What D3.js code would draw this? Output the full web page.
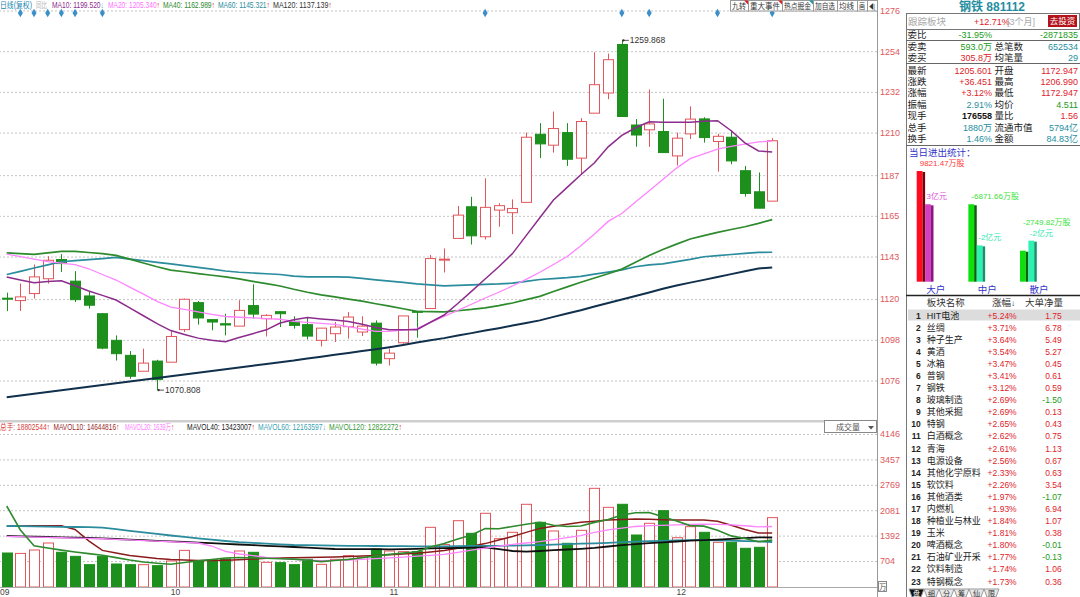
<!DOCTYPE html>
<html>
<head>
<meta charset="utf-8">
<title>钢铁 881112</title>
<script src="https://cdn.jsdelivr.net/npm/d3@7/dist/d3.min.js"></script>
<style>
  html, body { margin: 0; padding: 0; background: #fff; }
  svg { display: block; font-family: 'Liberation Sans', 'Noto Sans CJK SC', sans-serif; }
</style>
</head>
<body>
<div id="chart"></div>
<script>
// daily candles, oldest first (index 0 = mid Sep)
const opens = [1120.5,1119.2,1123.0,1131.0,1141.4,1129.7,1121.7,1112.1,1097.7,1089.6,
  1081.0,1086.5,1085.9,1103.5,1118.1,1108.9,1106.7,1105.4,1116.5,1109.4,
  1113.2,1108.0,1106.2,1097.7,1101.3,1105.1,1102.2,1107.0,1087.8,1096.4,
  1113.4,1114.9,1141.2,1152.8,1169.9,1153.7,1168.1,1166.7,1172.3,1209.1,
  1203.2,1210.0,1196.2,1220.5,1231.4,1257.6,1214.1,1211.5,1210.6,1197.4,
  1209.3,1217.4,1205.2,1207.5,1189.4,1178.0,1172.947];
const highs = [1123.5,1128.4,1138.7,1143.2,1144.3,1135.1,1123.9,1112.5,1100.4,1091.9,
  1093.2,1087.2,1102.6,1120.3,1119.0,1108.9,1112.1,1119.4,1128.0,1111.8,
  1113.2,1110.7,1110.3,1104.3,1107.6,1113.0,1110.7,1108.5,1093.2,1110.9,
  1113.4,1143.8,1147.4,1170.3,1175.3,1185.3,1171.8,1173.9,1210.0,1215.1,
  1221.4,1215.1,1217.8,1253.4,1252.7,1259.868,1217.3,1233.3,1228.3,1210.0,
  1224.2,1218.3,1209.3,1211.1,1192.0,1188.4,1206.990];
const lows = [1113.5,1113.6,1120.3,1128.4,1134.7,1118.4,1114.9,1092.9,1086.8,1076.9,
  1081.0,1070.808,1085.9,1102.2,1106.2,1103.1,1100.4,1105.4,1109.4,1099.8,
  1104.9,1104.0,1098.2,1094.4,1096.8,1098.6,1100.0,1084.1,1084.1,1095.9,
  1099.1,1114.9,1134.4,1152.8,1149.5,1152.2,1159.1,1155.1,1172.3,1196.2,
  1199.2,1192.0,1187.1,1220.5,1228.1,1218.7,1202.4,1202.3,1199.2,1192.2,
  1206.5,1204.6,1188.9,1192.9,1175.4,1169.15,1172.947];
const closes = [1120.0,1121.2,1132.0,1141.0,1139.2,1119.7,1116.7,1093.5,1090.5,1078.3,
  1085.4,1076.5,1099.8,1119.9,1109.8,1107.6,1106.0,1113.9,1111.9,1111.2,
  1112.1,1105.8,1100.0,1104.3,1104.9,1110.3,1105.4,1085.4,1090.8,1110.9,
  1113.0,1141.9,1141.6,1165.4,1154.2,1169.6,1170.5,1169.0,1207.5,1203.9,
  1212.2,1195.6,1216.0,1235.9,1249.4,1218.7,1208.7,1214.7,1199.2,1207.0,
  1217.3,1207.3,1208.0,1194.7,1177.1,1169.15,1205.601];
// 总手, in 万
const volumes = [921,910,1003,1192,940,831,605,831,623,605,
  605,578,705,993,714,732,759,976,940,668,
  660,605,750,614,750,849,804,1030,976,958,
  958,1617,1150,1797,1455,1997,1309,1482,2241,1753,
  1518,1184,1536,2674,2159,2241,1409,1726,2068,1336,
  1635,1482,1211,1211,1049,1076,1880];

// moving averages
const ma10 = [1132.0,1130.3,1128.8,1129.5,1129.9,1127.2,1124.4,1122.0,1119.5,1115.3,
  1111.0,1106.7,1103.0,1100.9,1098.9,1097.7,1096.9,1099.2,1101.3,1103.4,
  1107.1,1108.8,1110.0,1109.3,1108.7,1107.9,1106.4,1104.7,1103.5,1103.5,
  1103.5,1107.5,1111.4,1117.6,1124.2,1130.9,1137.5,1144.6,1154.3,1164.0,
  1173.6,1180.4,1187.2,1193.7,1202.3,1208.5,1212.6,1215.8,1215.6,1215.6,
  1215.6,1216.1,1216.4,1211.0,1204.5,1200.1,1199.520];
const ma20 = [1144.3,1143.0,1141.6,1140.3,1139.4,1138.6,1136.4,1133.3,1130.3,1126.5,
  1122.7,1118.8,1115.7,1114.4,1113.1,1111.8,1110.6,1110.2,1109.9,1109.4,
  1109.1,1108.0,1107.4,1106.9,1106.3,1105.1,1103.8,1102.6,1102.6,1103.2,
  1104.0,1107.4,1110.7,1113.9,1117.2,1120.6,1123.7,1127.1,1130.7,1134.5,
  1138.7,1143.0,1148.9,1155.2,1162.0,1166.3,1172.5,1178.6,1184.7,1190.8,
  1195.9,1198.5,1201.1,1202.6,1203.8,1205.0,1205.340];
const ma40 = [1145.0,1144.6,1144.2,1145.0,1145.8,1145.8,1145.2,1144.6,1143.6,1141.6,
  1139.5,1137.5,1135.7,1134.8,1133.8,1132.9,1132.0,1130.9,1129.6,1128.4,
  1127.1,1125.3,1123.7,1122.3,1121.2,1120.0,1118.9,1117.5,1116.2,1114.8,
  1113.4,1113.2,1113.1,1113.7,1114.4,1115.3,1116.5,1117.9,1119.7,1121.5,
  1124.1,1126.6,1129.1,1131.4,1133.7,1136.2,1139.9,1143.6,1146.8,1149.7,
  1152.5,1154.3,1156.1,1157.6,1159.1,1160.9,1162.989];
const ma60 = [1133.3,1135.0,1136.8,1138.5,1140.2,1140.8,1141.3,1141.9,1142.5,1141.6,
  1140.8,1139.9,1139.0,1138.1,1137.1,1136.2,1135.2,1134.5,1134.1,1133.7,
  1133.3,1132.4,1132.0,1132.0,1132.0,1131.9,1131.2,1130.4,1129.7,1129.0,
  1128.2,1127.7,1127.2,1127.4,1127.7,1128.0,1128.2,1128.6,1129.6,1130.6,
  1131.1,1131.6,1132.3,1133.5,1134.6,1135.8,1137.5,1138.5,1139.0,1140.3,
  1141.5,1142.9,1143.5,1144.1,1144.7,1145.3,1145.321];
const ma120 = [1067.0,1067.9,1068.8,1069.8,1070.7,1071.7,1072.6,1073.6,1074.5,1075.5,
  1076.4,1077.4,1078.3,1079.3,1080.2,1081.1,1082.1,1083.0,1084.0,1084.9,
  1085.9,1086.8,1087.9,1088.9,1089.9,1090.9,1091.9,1092.9,1094.0,1095.2,
  1096.5,1097.7,1098.9,1100.3,1101.6,1103.0,1104.3,1105.7,1107.1,1108.5,
  1110.4,1112.2,1114.0,1116.0,1117.9,1119.8,1121.7,1123.6,1125.6,1127.3,
  1128.9,1130.4,1131.9,1133.5,1135.0,1136.5,1137.139];

const mavol10 = [1653,1653,1659,1661,1661,1560,1252,992,921,851,
  813,775,748,732,715,718,726,740,759,778,
  786,791,799,808,816,827,837,854,873,892,
  913,951,986,1049,1106,1176,1274,1369,1480,1588,
  1648,1702,1753,1783,1816,1829,1840,1837,1824,1816,
  1816,1816,1780,1672,1558,1463,1464];
const mavol20 = [1372,1364,1353,1345,1334,1326,1318,1307,1291,1275,
  1258,1242,1226,1210,1192,1111,965,894,851,805,
  775,751,726,715,721,729,751,770,791,808,
  835,859,883,938,997,1051,1108,1154,1192,1228,
  1285,1339,1393,1480,1550,1593,1640,1661,1672,1683,
  1694,1705,1696,1683,1660,1630,1639];
const mavol40 = [1382,1374,1363,1355,1344,1336,1328,1317,1301,1285,
  1268,1252,1236,1220,1203,1187,1168,1152,1135,1117,
  1100,1084,1065,1046,1030,1027,1027,1024,1022,1027,
  1035,1046,1051,1057,1065,1073,1027,976,959,976,
  997,1016,1035,1062,1098,1135,1163,1187,1211,1233,
  1255,1271,1285,1304,1322,1344,1342];
const mavol60 = [1653,1648,1642,1637,1631,1626,1621,1610,1566,1523,
  1482,1439,1396,1358,1320,1285,1247,1214,1195,1176,
  1157,1138,1133,1127,1122,1117,1114,1111,1108,1106,
  1103,1100,1100,1108,1111,1114,1117,1122,1130,1138,
  1149,1160,1173,1184,1198,1214,1230,1241,1252,1260,
  1268,1274,1266,1255,1244,1236,1220];
const mavol120 = [2195,1545,1119,1057,1000,949,905,862,797,732,
  678,645,618,664,707,745,786,800,786,778,
  767,756,726,688,718,748,794,843,883,921,
  957,1084,1179,1301,1409,1585,1577,1640,1699,1753,
  1675,1640,1653,1751,1827,1951,2014,2016,1902,1789,
  1664,1650,1537,1385,1314,1225,1270];

const priceTicks = [1276, 1254, 1232, 1210, 1187, 1165, 1143, 1120, 1098, 1076];
const volTicks = [4146, 3457, 2769, 2081, 1392, 704];
const monthLabels = ['09', '10', '11', '12'];
const monthStarts = [0, 12, 28, 49];
const eventDays = [1, 2, 3, 4, 5, 7, 35, 45, 47, 52, 56];

// right panel
const quoteLabelsL = ['委比', '委卖', '委买', '最新', '涨跌', '涨幅', '振幅', '现手', '总手', '换手'];
const quoteValuesL = ['-31.95%', '593.0万', '305.8万', '1205.601', '+36.451', '+3.12%', '2.91%', '176558', '1880万', '1.46%'];
const quoteLabelsR = ['', '总笔数', '均笔量', '开盘', '最高', '最低', '均价', '量比', '流通市值', '金额'];
const quoteValuesR = ['-2871835', '652534', '29', '1172.947', '1206.990', '1172.947', '4.511', '1.56', '5794亿', '84.83亿'];

const flowCats = ['大户', '中户', '散户'];
const flowShares = [9821.47, -6871.66, -2749.82];   // 万股
const flowAmount = [3.3, -1.55, -1.75];            // 亿元

const sectorNames = ['HIT电池', '丝绸', '种子生产', '黄酒', '冰箱', '普钢', '钢铁', '玻璃制造', '其他采掘', '特钢', '白酒概念', '青海',
  '电源设备', '其他化学原料', '软饮料', '其他酒类', '内燃机', '种植业与林业', '玉米', '啤酒概念', '石油矿业开采', '饮料制造', '特钢概念'];
const sectorPct = [5.24, 3.71, 3.64, 3.54, 3.47, 3.41, 3.12, 2.69, 2.69, 2.65, 2.62, 2.61, 2.56, 2.33, 2.26, 1.97, 1.93, 1.84, 1.81, 1.80, 1.77, 1.74, 1.73];
const sectorNet = [1.75, 6.78, 5.49, 5.27, 0.45, 0.61, 0.59, -1.50, 0.13, 0.43, 0.75, 1.13, 0.67, 0.63, 3.54, -1.07, 6.94, 1.07, 0.38, -0.01, -0.13, 1.06, 0.36];

const RED = '#e2555b', GREEN = '#1c8f1c', TEAL = '#2a8c9c';
const RED_TXT = '#e0232b', GRN_TXT = '#1a9a1a', TEAL_TXT = '#1f8ea0';

const config = {
  width: 1080, height: 597,
  plotRight: 877,
  panelLeft: 906,
  candleW: 10
};

const svg = d3.select('#chart').append('svg')
  .attr('width', config.width)
  .attr('height', config.height);
svg.append('rect').attr('width', config.width).attr('height', config.height).attr('fill', '#fff');

const x = d3.scaleLinear().domain([0, closes.length - 1]).range([6.7, 772.2]);
const y = d3.scaleLinear().domain([1076, 1276]).range([380.5, 10.5]);
const yv = d3.scaleLinear().domain([0, 4146]).range([587, 434]);

// squeeze a text horizontally so it fits a given width (narrow bitmap fonts in the original)
function fitText(t, px, py, w) {
  const nat = t.node().getComputedTextLength();
  if (w && nat > w) {
    t.attr('x', 0).attr('y', 0).attr('transform', `translate(${px},${py}) scale(${w / nat},1)`);
  }
  return t;
}

function styleAxis(g) {
  g.select('.domain').remove();
  g.selectAll('.tick line').attr('stroke', '#c4c4c4').attr('stroke-dasharray', '2,2');
  g.selectAll('.tick text').attr('fill', '#e0585c').attr('font-size', 9).attr('font-family', 'Liberation Sans');
}
svg.append('g')
  .attr('class', 'axis price')
  .attr('transform', `translate(${config.plotRight},0)`)
  .call(d3.axisRight(y).tickValues(priceTicks).tickSize(-config.plotRight).tickPadding(3).tickFormat(d3.format('d')))
  .call(styleAxis);
svg.append('g')
  .attr('class', 'axis vol')
  .attr('transform', `translate(${config.plotRight},0)`)
  .call(d3.axisRight(yv).tickValues(volTicks).tickSize(-config.plotRight).tickPadding(3).tickFormat(d3.format('d')))
  .call(styleAxis);

const isUp = closes.map((c, i) => c >= opens[i]);
const idx = d3.range(closes.length);

// candles
const cg = svg.append('g').attr('class', 'candles');
cg.selectAll('line.wick')
  .data(idx)
  .join('line')
  .attr('class', 'wick')
  .attr('x1', i => Math.round(x(i)) + 0.5)
  .attr('x2', i => Math.round(x(i)) + 0.5)
  .attr('y1', i => y(highs[i]))
  .attr('y2', i => y(lows[i]))
  .attr('stroke', i => isUp[i] ? RED : GREEN)
  .attr('stroke-width', 1);
cg.selectAll('rect.body')
  .data(idx)
  .join('rect')
  .attr('class', 'body')
  .attr('x', i => Math.round(x(i)) - config.candleW / 2 + 0.5)
  .attr('width', config.candleW)
  .attr('y', i => y(Math.max(opens[i], closes[i])))
  .attr('height', i => Math.max(1, Math.abs(y(opens[i]) - y(closes[i]))))
  .attr('fill', i => isUp[i] ? '#fff' : GREEN)
  .attr('stroke', i => isUp[i] ? RED : GREEN)
  .attr('stroke-width', 1);

// moving average lines
const priceLine = d3.line().x((d, i) => x(i)).y(d => y(d));
[[ma120, '#10304c', 2], [ma60, TEAL, 1.7], [ma40, '#2d8a2d', 1.7], [ma20, '#ff84ff', 1.3], [ma10, '#8c2c8c', 1.5]]
  .forEach(([d, c, w]) => {
    svg.append('path').datum(d).attr('d', priceLine).attr('fill', 'none').attr('stroke', c).attr('stroke-width', w);
  });

// high / low markers
function extremeLabel(i, v) {
  const g = svg.append('g');
  g.append('line').attr('x1', x(i) + 1).attr('x2', x(i) + 7).attr('y1', y(v)).attr('y2', y(v)).attr('stroke', '#555');
  g.append('circle').attr('cx', x(i) + 1.5).attr('cy', y(v)).attr('r', 1.2).attr('fill', '#333');
  g.append('text').attr('x', x(i) + 8).attr('y', y(v) + 3).attr('font-size', 8.5).attr('fill', '#333').text(v.toFixed(3));
}
extremeLabel(highs.indexOf(d3.max(highs)), d3.max(highs));
extremeLabel(lows.indexOf(d3.min(lows)), d3.min(lows));

// event markers
svg.append('g').selectAll('path')
  .data(eventDays)
  .join('path')
  .attr('transform', i => `translate(${x(i)},13)`)
  .attr('d', d3.symbol(d3.symbolDiamond, 22))
  .attr('fill', '#3a8fc8');

// volume bars
svg.append('g').selectAll('rect')
  .data(idx)
  .join('rect')
  .attr('x', i => Math.round(x(i)) - config.candleW / 2 + 0.5)
  .attr('width', config.candleW)
  .attr('y', i => yv(volumes[i]))
  .attr('height', i => yv(0) - yv(volumes[i]))
  .attr('fill', i => isUp[i] ? '#fff' : GREEN)
  .attr('stroke', i => isUp[i] ? RED : GREEN)
  .attr('stroke-width', 1);

const volLine = d3.line().x((d, i) => x(i)).y(d => yv(d));
[[mavol10, '#8b1c1c', 1.5], [mavol60, TEAL, 1.8], [mavol40, '#111', 1.8], [mavol20, '#ff84ff', 1.3], [mavol120, '#2d8a2d', 1.6]]
  .forEach(([d, c, w]) => {
    svg.append('path').datum(d).attr('d', volLine).attr('fill', 'none').attr('stroke', c).attr('stroke-width', w);
  });

// base line and month labels
svg.append('line').attr('x1', 0).attr('x2', config.plotRight).attr('y1', 587.5).attr('y2', 587.5).attr('stroke', '#aaa');
svg.append('g').selectAll('text')
  .data(monthLabels)
  .join('text')
  .attr('x', (d, k) => monthStarts[k] === 0 ? 0 : x(monthStarts[k]))
  .attr('y', 595)
  .attr('font-size', 8.5)
  .attr('fill', '#444')
  .text(d => d);

// separators
svg.append('rect').attr('x', 0).attr('y', 420).attr('width', config.plotRight).attr('height', 2.5).attr('fill', '#cfcfcf');
svg.append('line').attr('x1', config.plotRight + 0.5).attr('x2', config.plotRight + 0.5).attr('y1', 0).attr('y2', 597).attr('stroke', '#999');
svg.append('line').attr('x1', config.panelLeft + 0.5).attr('x2', config.panelLeft + 0.5).attr('y1', 13).attr('y2', 597).attr('stroke', '#777');

// legends: one text per item, arrow kept inside as a tspan
function legend(items, yy) {
  items.forEach(d => {
    const t = svg.append('text').attr('x', d.x).attr('y', yy).attr('font-size', 8.5).attr('fill', d.c);
    t.append('tspan').text(d.t);
    if (d.a) t.append('tspan').attr('fill', d.ac).text(d.a);
    fitText(t, d.x, yy, d.w);
  });
}
const last = closes.length - 1;
const UPC = RED_TXT, DNC = '#3aa8b8';
legend([
  { t: '日线(复权)', x: 0, w: 32, c: '#1a86b0' },
  { t: '同比', x: 36, w: 11, c: '#b4b4b4' },
  { t: `MA10: ${ma10[last].toFixed(3)}`, a: '↓', ac: DNC, x: 52, w: 52, c: '#8c2c8c' },
  { t: `MA20: ${ma20[last].toFixed(3)}`, a: '↑', ac: UPC, x: 108, w: 52, c: '#ff70ff' },
  { t: `MA40: ${ma40[last].toFixed(3)}`, a: '↑', ac: UPC, x: 163, w: 52, c: '#2d8a2d' },
  { t: `MA60: ${ma60[last].toFixed(3)}`, a: '↑', ac: UPC, x: 218, w: 52, c: TEAL },
  { t: `MA120: ${ma120[last].toFixed(3)}`, a: '↑', ac: UPC, x: 273, w: 59, c: '#333' }
], 8);
legend([
  { t: '总手: 18802544', a: '↑', ac: UPC, x: 0, w: 50, c: '#d84040' },
  { t: 'MAVOL10: 14644816', a: '↑', ac: UPC, x: 53.5, w: 66, c: '#9b2a2a' },
  { t: 'MAVOL20: 1639万', a: '↑', ac: UPC, x: 125, w: 49, c: '#ff80ff' },
  { t: 'MAVOL40: 13423007', a: '↑', ac: UPC, x: 187, w: 68, c: '#222' },
  { t: 'MAVOL60: 12163597', a: '↓', ac: DNC, x: 258, w: 68, c: '#3a9fb2' },
  { t: 'MAVOL120: 12822272', a: '↑', ac: UPC, x: 329, w: 73, c: '#3a9a3a' }
], 430);

// toolbar buttons
const toolBtns = [['九转', 730, 748], ['重大事件', 748, 782], ['热点掘金', 782, 813], ['加自选', 813, 837], ['均线', 837, 857], ['画', 857, 867], ['◀|', 867, 877]];
const tb = svg.append('g');
toolBtns.forEach(([t, a, b], k) => {
  tb.append('rect').attr('x', a + 0.5).attr('y', 0.5).attr('width', b - a).attr('height', 10.5).attr('fill', '#fff').attr('stroke', '#999');
  const tx = tb.append('text').attr('x', a + 2).attr('y', 8.5).attr('font-size', 7.5).attr('fill', '#333').text(t);
  fitText(tx, a + 2, 8.5, b - a - 4);
  if (k < 3) {
    tb.append('path').attr('d', `M${b - 4},0.5 L${b + 0.5},0.5 L${b + 0.5},5 Z`).attr('fill', k === 2 ? '#1a9aa0' : '#e02020');
  }
});
// 成交量 selector and unit box
svg.append('rect').attr('x', 824.5).attr('y', 420.5).attr('width', 52).attr('height', 12).attr('fill', '#fff').attr('stroke', '#888');
svg.append('text').attr('x', 848).attr('y', 429.5).attr('text-anchor', 'middle').attr('font-size', 8).attr('fill', '#555').text('成交量');
svg.append('path').attr('d', 'M868,426 L874,426 L871,429.5 Z').attr('fill', '#555');
svg.append('rect').attr('x', 878.5).attr('y', 581.5).attr('width', 8).attr('height', 10).attr('fill', '#fff').attr('stroke', '#888');
svg.append('text').attr('x', 879).attr('y', 590).attr('font-size', 7.5).attr('fill', '#555').text('万');

// ---- right panel ----
const P = config.panelLeft;
svg.append('text').attr('x', 992).attr('y', 11).attr('text-anchor', 'middle').attr('font-size', 12).attr('font-weight', 'bold')
  .attr('fill', TEAL_TXT).text('钢铁 881112');
svg.append('rect').attr('x', P + 0.5).attr('y', 13.5).attr('width', 1080 - P - 1).attr('height', 16).attr('fill', '#fff').attr('stroke', '#777');
svg.append('text').attr('x', 908).attr('y', 24.5).attr('font-size', 9.5).attr('fill', '#aaa').text('跟踪板块');
svg.append('text').attr('x', 974).attr('y', 24.5).attr('font-size', 9).attr('fill', RED_TXT).text('+12.71%');
svg.append('text').attr('x', 1007).attr('y', 24.5).attr('font-size', 9).attr('fill', '#aaa').text('[3个月]');
svg.append('rect').attr('x', 1048).attr('y', 15).attr('width', 29).attr('height', 12).attr('fill', '#b3141c');
svg.append('text').attr('x', 1062.5).attr('y', 24).attr('text-anchor', 'middle').attr('font-size', 8.5).attr('fill', '#fff').text('去投资');

[40.5, 63.5, 145.5].forEach(yy => {
  svg.append('line').attr('x1', P).attr('x2', 1080).attr('y1', yy).attr('y2', yy).attr('stroke', '#666');
});

const quoteY = [34.3, 46.7, 57.7, 70, 81.7, 92.3, 104, 115.7, 127.3, 138.3];
const colL = [GRN_TXT, GRN_TXT, RED_TXT, RED_TXT, RED_TXT, RED_TXT, TEAL_TXT, '#111', TEAL_TXT, TEAL_TXT];
const colR = [GRN_TXT, TEAL_TXT, TEAL_TXT, RED_TXT, RED_TXT, RED_TXT, GRN_TXT, RED_TXT, TEAL_TXT, TEAL_TXT];
const qg = svg.append('g');
quoteLabelsL.forEach((lab, k) => {
  const yy = quoteY[k] + 3.5;
  qg.append('text').attr('x', 907.5).attr('y', yy).attr('font-size', 9.5).attr('fill', '#222').text(lab);
  qg.append('text').attr('x', 992).attr('y', yy).attr('text-anchor', 'end').attr('font-size', 9)
    .attr('font-weight', k === 7 ? 'bold' : 'normal').attr('fill', colL[k]).text(quoteValuesL[k]);
  qg.append('text').attr('x', 994.5).attr('y', yy).attr('font-size', 9.5).attr('fill', '#222').text(quoteLabelsR[k]);
  qg.append('text').attr('x', 1078).attr('y', yy).attr('text-anchor', 'end').attr('font-size', 9).attr('fill', colR[k]).text(quoteValuesR[k]);
});

// 当日进出统计 bars
svg.append('text').attr('x', 909).attr('y', 156).attr('font-size', 9.5).attr('fill', '#3434c8').text('当日进出统计：');
const flowX = d3.scalePoint().domain(flowCats).range([916.7, 1020]);
const base = 281.7;
const shareH = d3.scaleLinear().domain([0, d3.max(flowShares, Math.abs)]).range([0, 110.7]);
const amtH = d3.scaleLinear().domain([0, d3.max(flowAmount, Math.abs)]).range([0, 77.4]);
const bw = 8.4;
function bar3d(x0, h, front, side) {
  svg.append('rect').attr('x', x0).attr('y', base - h).attr('width', bw - 2.6).attr('height', h).attr('fill', front);
  svg.append('rect').attr('x', x0 + bw - 2.6).attr('y', base - h + 1).attr('width', 2.6).attr('height', h - 1).attr('fill', side);
}
flowCats.forEach((c, k) => {
  const x0 = flowX(c);
  const sUp = flowShares[k] >= 0, aUp = flowAmount[k] >= 0;
  const hs = shareH(Math.abs(flowShares[k])), ha = amtH(Math.abs(flowAmount[k]));
  bar3d(x0, hs, sUp ? '#ff0a1e' : '#0ee00e', sUp ? '#7a0008' : '#066606');
  bar3d(x0 + bw, ha, aUp ? '#d23fc0' : '#2ef2b2', aUp ? '#8a1a80' : '#14946e');
  const amtY = base - ha - 5;
  const shY = Math.min(base - hs - 5, amtY - 10.5);
  svg.append('text').attr('x', x0 + 3).attr('y', shY).attr('font-size', 8)
    .attr('fill', sUp ? '#ff3a3a' : '#3ae23a').text(flowShares[k].toFixed(2) + '万股');
  svg.append('text').attr('x', x0 + bw + 1.5).attr('y', amtY).attr('font-size', 8)
    .attr('fill', aUp ? '#e050d8' : '#30e8b0').text(Math.round(flowAmount[k]) + '亿元');
  svg.append('text').attr('x', x0 + 19).attr('y', 292.5).attr('text-anchor', 'middle').attr('font-size', 9.5)
    .attr('fill', '#3434c8').text(c);
});

// 板块 table
svg.append('line').attr('x1', P).attr('x2', 1080).attr('y1', 295.5).attr('y2', 295.5).attr('stroke', '#222').attr('stroke-width', 1.5);
const rowY = d3.scaleLinear().domain([1, sectorNames.length]).range([315, 581]);
const th = svg.append('g').attr('font-size', 9.5).attr('fill', '#333');
th.append('text').attr('x', 926.7).attr('y', 306).text('板块名称');
const zf = th.append('text').attr('x', 992).attr('y', 306).text('涨幅');
zf.append('tspan').attr('font-weight', 'bold').attr('font-size', 8).text('↓');
th.append('text').attr('x', 1025).attr('y', 306).text('大单净量');
svg.append('rect').attr('x', 908).attr('y', 309.5).attr('width', 172).attr('height', 11).attr('fill', '#dcdcdc');
const rows = svg.append('g').selectAll('g')
  .data(sectorNames)
  .join('g')
  .attr('transform', (d, k) => `translate(0,${rowY(k + 1) + 3.5})`);
rows.append('text').attr('x', 920.7).attr('text-anchor', 'end').attr('font-size', 8.5).attr('font-weight', 'bold').attr('fill', '#222').text((d, k) => k + 1);
rows.append('text').attr('x', 926.7).attr('font-size', 9).attr('fill', '#222').text(d => d);
rows.append('text').attr('x', 1016.7).attr('text-anchor', 'end').attr('font-size', 8.5).attr('fill', RED_TXT)
  .text((d, k) => '+' + sectorPct[k].toFixed(2) + '%');
rows.append('text').attr('x', 1061.7).attr('text-anchor', 'end').attr('font-size', 8.5)
  .attr('fill', (d, k) => sectorNet[k] < 0 ? GRN_TXT : RED_TXT)
  .text((d, k) => sectorNet[k].toFixed(2));

// bottom tabs
const tabs = ['盘', '细', '分', '筹', '仙', '限'];
const tg = svg.append('g');
tabs.forEach((t, k) => {
  const x0 = 909 + k * 15;
  tg.append('path').attr('d', `M${x0},589 L${x0 + 15},589 L${x0 + 12},597 L${x0 + 3},597 Z`)
    .attr('fill', k === 0 ? '#111' : '#e8e8e8').attr('stroke', '#999');
  tg.append('text').attr('x', x0 + 7.5).attr('y', 596).attr('text-anchor', 'middle').attr('font-size', 7)
    .attr('fill', k === 0 ? '#fff' : '#333').text(t);
});
</script>
</body>
</html>
